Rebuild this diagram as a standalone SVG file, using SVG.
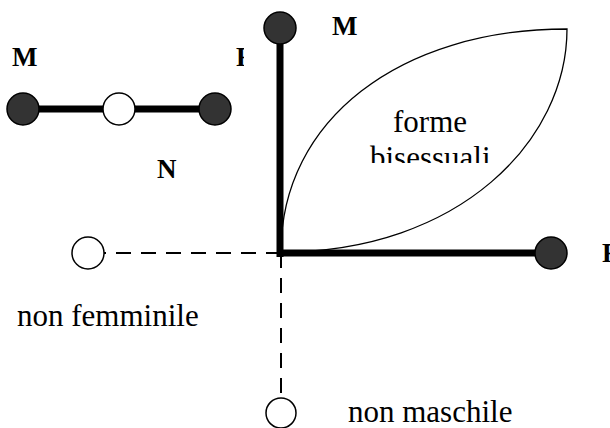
<svg xmlns="http://www.w3.org/2000/svg" width="610" height="428" viewBox="0 0 610 428">
  <style>
    .lbl { font-family: "Liberation Serif", "Times New Roman", serif; font-size: 31px; fill: #000; }
    .bold { font-family: "Liberation Serif", "Times New Roman", serif; font-size: 27px; font-weight: bold; fill: #000; }
    .full { fill: #333; stroke: #000; stroke-width: 1.5; }
    .empty { fill: #fff; stroke: #000; stroke-width: 1.5; }
    .thick { stroke: #000; stroke-width: 7; fill: none; }
    .dash { stroke: #000; stroke-width: 2; stroke-dasharray: 15 10; fill: none; }
  </style>
  <defs>
    <clipPath id="clipTopLeft"><rect x="0" y="48" width="230" height="40"/></clipPath>
    <clipPath id="clipF"><rect x="230" y="48" width="14" height="40"/></clipPath>
    <clipPath id="clipBis"><rect x="340" y="130" width="200" height="33"/></clipPath>
  </defs>
  <rect width="610" height="428" fill="#fff"/>

  <g id="leaf">
    <path d="M281,252 C281,120 400,29 567,29 C567,140 460,252 281,252 Z" fill="#fff" stroke="#000" stroke-width="1.3"/>
    <text class="lbl" x="393" y="132">forme</text>
    <text class="lbl" x="370" y="168" clip-path="url(#clipBis)">bisessuali</text>
  </g>

  <g id="connectors">
    <line class="thick" x1="23" y1="109" x2="215" y2="109"/>
    <line class="thick" x1="280" y1="28" x2="280" y2="257"/>
    <line class="thick" x1="277" y1="253" x2="551" y2="253"/>
    <line class="dash" x1="281" y1="253" x2="104" y2="253"/>
    <line class="dash" x1="281" y1="253" x2="281" y2="398"/>
  </g>

  <g id="node-left-M">
    <circle class="full" cx="23" cy="109" r="16"/>
    <text class="bold" x="12" y="66" clip-path="url(#clipTopLeft)">M</text>
  </g>
  <g id="node-left-N">
    <circle class="empty" cx="119" cy="109" r="16"/>
    <text class="bold" x="157" y="178">N</text>
  </g>
  <g id="node-left-F">
    <circle class="full" cx="215" cy="109" r="16"/>
    <text class="bold" x="236" y="66" clip-path="url(#clipF)">F</text>
  </g>

  <g id="node-top-M">
    <circle class="full" cx="280" cy="28" r="16"/>
    <text class="bold" x="332" y="35">M</text>
  </g>
  <g id="node-right-F">
    <circle class="full" cx="551" cy="253" r="16"/>
    <text class="bold" x="602" y="262">F</text>
  </g>
  <g id="node-non-femminile">
    <circle class="empty" cx="88" cy="253" r="16"/>
    <text class="lbl" x="17" y="326">non femminile</text>
  </g>
  <g id="node-non-maschile">
    <circle class="empty" cx="281" cy="413" r="15"/>
    <text class="lbl" x="348" y="422">non maschile</text>
  </g>
</svg>
